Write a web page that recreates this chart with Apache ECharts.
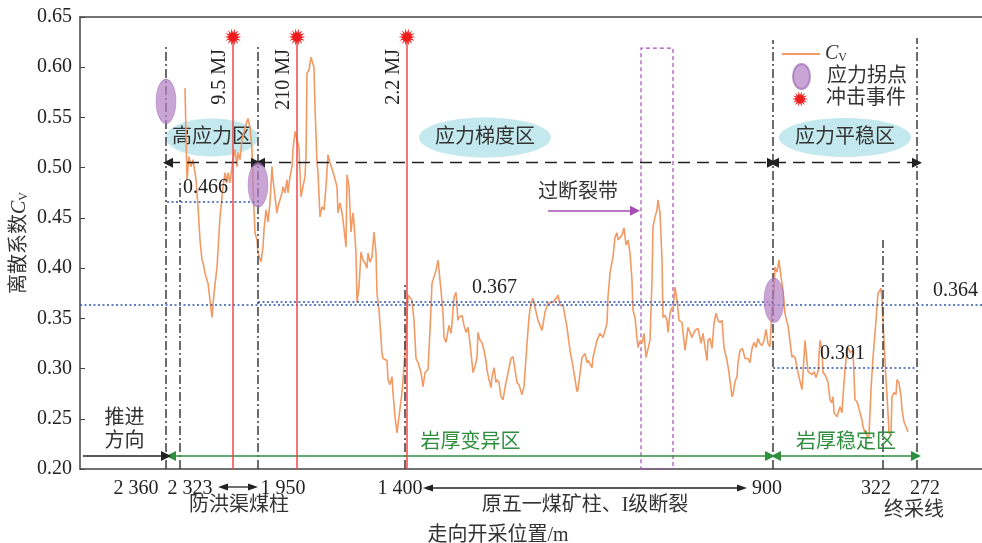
<!DOCTYPE html>
<html lang="zh">
<head>
<meta charset="utf-8">
<title>离散系数Cv</title>
<script src="https://cdn.jsdelivr.net/npm/echarts@6.0.0/dist/echarts.min.js"></script>
<style>
html,body{margin:0;padding:0;background:#fff;}
#chart{width:982px;height:543px;}
</style>
</head>
<body>
<div id="chart"></div>
<script>
// ---------- data ----------
// Cv along the advance (x = position along the advance sequence)
const cvPos = [
  105,107,109,111,113,116,118,120,122,123,
  125,127,128,132,134,137,140,142,143,145,
  147,148,150,152,153,155,157,158,160,162,
  165,168,170,172,173,175,177,178,181,183,
  184,186,188,190,192,193,195,197,198,200,
  202,203,205,207,208,210,212,213,215,217,
  219,221,223,225,226,227,229,231,233,234,
  235,237,238,240,242,244,246,248,250,252,
  253,255,257,258,260,262,263,266,267,269,
  271,273,274,276,277,279,281,283,285,287,
  288,290,292,294,296,297,299,300,302,303,
  305,307,308,310,312,313,315,317,319,322,
  324,326,328,332,334,336,338,341,343,345,
  348,350,352,354,356,358,359,361,363,364,
  366,368,369,371,372,374,376,378,379,382,
  384,386,388,390,392,393,395,397,398,400,
  402,404,406,407,409,411,412,414,416,417,
  419,421,423,426,428,431,433,435,437,439,
  442,444,447,449,451,453,455,458,462,465,
  468,470,473,477,478,480,483,487,490,493,
  497,498,502,505,507,508,512,513,517,520,
  523,527,528,530,532,533,535,537,538,540,
  542,544,546,548,550,552,553,555,557,558,
  560,562,564,566,568,570,572,573,575,577,
  578,580,582,583,585,587,588,590,592,593,
  595,597,599,602,603,605,608,610,612,615,
  618,621,623,624,627,628,630,632,634,636,
  638,640,642,644,647,649,652,653,655,657,
  658,660,662,663,665,668,670,672,674,676,
  678,680,682,684,686,688,690,692,694,695,
  697,699,701,703,705,707,708,710,712,713,
  715,718,722,725,728,730,732,734,736,738,
  740,742,743,745,747,748,750,752,753,754,
  757,758,760,762,763,765,767,768,770,772,
  773,775,777,778,780,782,783,785,788,789,
  791,793,795,797,798,800,801,802,804,806,
  808,809,811,812,814,816,817,819,821,822,
  824,826,828
];
const cvVal = [
  0.579,0.488,0.511,0.501,0.508,0.488,0.461,0.428,0.408,0.406,
  0.395,0.388,0.385,0.351,0.375,0.401,0.451,0.471,0.481,0.495,
  0.485,0.495,0.485,0.501,0.508,0.518,0.501,0.515,0.508,0.528,
  0.540,0.549,0.540,0.518,0.481,0.435,0.428,0.415,0.406,0.421,
  0.438,0.458,0.446,0.465,0.501,0.488,0.471,0.455,0.461,0.468,
  0.475,0.481,0.475,0.488,0.475,0.491,0.501,0.518,0.536,0.535,
  0.520,0.471,0.481,0.491,0.511,0.594,0.597,0.610,0.611,0.600,
  0.560,0.505,0.495,0.451,0.461,0.458,0.481,0.513,0.505,0.506,
  0.496,0.496,0.481,0.455,0.465,0.455,0.448,0.421,0.493,0.481,
  0.436,0.455,0.445,0.415,0.366,0.381,0.416,0.408,0.405,0.400,
  0.415,0.406,0.411,0.436,0.415,0.375,0.358,0.345,0.315,0.310,
  0.311,0.308,0.289,0.284,0.292,0.276,0.252,0.236,0.236,0.276,
  0.302,0.335,0.373,0.368,0.348,0.310,0.306,0.296,0.282,0.296,
  0.299,0.338,0.385,0.385,0.398,0.408,0.398,0.378,0.355,0.331,
  0.326,0.326,0.343,0.335,0.345,0.371,0.376,0.348,0.351,0.353,
  0.343,0.336,0.341,0.325,0.306,0.296,0.302,0.311,0.336,0.328,
  0.326,0.318,0.308,0.299,0.289,0.281,0.292,0.301,0.286,0.289,
  0.286,0.272,0.269,0.286,0.287,0.310,0.312,0.299,0.286,0.284,
  0.274,0.282,0.325,0.351,0.366,0.370,0.361,0.348,0.338,0.356,
  0.365,0.366,0.366,0.371,0.373,0.363,0.363,0.341,0.318,0.302,
  0.277,0.279,0.311,0.315,0.306,0.308,0.301,0.311,0.328,0.335,
  0.331,0.345,0.371,0.395,0.406,0.411,0.431,0.435,0.428,0.428,
  0.433,0.440,0.423,0.428,0.415,0.388,0.358,0.351,0.330,0.321,
  0.328,0.325,0.335,0.311,0.310,0.328,0.388,0.441,0.451,0.458,
  0.468,0.455,0.408,0.351,0.353,0.348,0.336,0.355,0.361,0.358,
  0.381,0.368,0.348,0.346,0.345,0.318,0.341,0.340,0.331,0.338,
  0.340,0.325,0.335,0.328,0.308,0.328,0.330,0.320,0.345,0.355,
  0.348,0.346,0.348,0.321,0.308,0.296,0.272,0.274,0.287,0.292,
  0.306,0.318,0.320,0.318,0.310,0.310,0.306,0.320,0.326,0.321,
  0.330,0.325,0.323,0.328,0.339,0.325,0.322,0.358,0.378,0.401,
  0.396,0.408,0.391,0.378,0.355,0.346,0.343,0.342,0.311,0.313,
  0.311,0.296,0.279,0.328,0.297,0.296,0.294,0.297,0.291,0.297,
  0.328,0.318,0.296,0.294,0.289,0.286,0.269,0.266,0.272,0.256,
  0.252,0.251,0.262,0.256,0.272,0.299,0.318,0.321,0.316,0.315,
  0.318,0.269,0.267,0.264,0.256,0.249,0.242,0.236,0.232,0.234,
  0.279,0.311,0.335,0.361,0.375,0.378,0.380,0.368,0.328,0.289,
  0.256,0.236,0.234,0.272,0.276,0.274,0.289,0.286,0.272,0.259,
  0.247,0.242,0.237
];

// mining position (m) at the section boundaries
const tickPos = [86, 100, 178, 325, 693, 803, 837];
const tickText = ['2 360', '2 323', '1 950', '1 400', '900', '322', '272'];

// section boundary lines: position and upper end
const boundPos = [86, 100, 178, 325, 693, 803, 837];
const boundTop = [0.623, 0.488, 0.623, 0.386, 0.627, 0.428, 0.629];

// stress turning points
const turnPos = [86, 178, 694];
const turnVal = [0.566, 0.483, 0.368];

// rock-burst events
const eventPos = [153, 217, 327];
const eventVal = [0.63, 0.63, 0.63];
const eventText = ['9.5 MJ', '210 MJ', '2.2 MJ'];

// mean Cv of each section
const meanVal = [0.466, 0.367, 0.301, 0.364];
const meanFrom = [87, 178, 693, 0];
const meanTo = [182, 693, 837, 902];

// stress zones
const stressZone = ['高应力区', '应力梯度区', '应力平稳区'];
const stressZonePos = [132, 405, 765];
const stressZoneVal = [0.53, 0.53, 0.53];
const stressSpanFrom = [88, 180, 694];
const stressSpanTo = [176, 692, 837];
const stressSpanVal = 0.505;

// rock thickness zones
const rockZone = ['岩厚变异区', '岩厚稳定区'];
const rockFrom = [91, 696];
const rockTo = [690, 836];
const rockVal = 0.213;
const advanceFrom = 3, advanceTo = 86;

// fault crossing
const faultFrom = 561, faultTo = 593, faultTop = 0.619;
const faultArrowFrom = 468, faultArrowTo = 555, faultArrowVal = 0.457;

// notes under the position axis
const noteText = ['防洪渠煤柱', '原五一煤矿柱、I级断裂', '终采线'];
const notePos = [159, 505, 834];
const spanFrom = [138, 343];
const spanTo = [178, 667];

// ---------- style ----------
const FONT = '"Liberation Serif","Noto Sans CJK SC",serif';
const TEXT = '#333';
const ELLIPSE = 'path://M0,-1C0.552,-1,1,-0.552,1,0C1,0.552,0.552,1,0,1C-0.552,1,-1,0.552,-1,0C-1,-0.552,-0.552,-1,0,-1Z';
function burstPath(n, inner) {
  let d = '';
  for (let i = 0; i < 2 * n; i++) {
    const r = i % 2 ? inner : 1;
    const a = Math.PI * i / n;
    d += (i ? 'L' : 'M') + (r * Math.cos(a)).toFixed(3) + ',' + (r * Math.sin(a)).toFixed(3);
  }
  return 'path://' + d + 'Z';
}
const BURST = burstPath(14, 0.5);
const zoneSize = [[92, 38], [132, 40], [132, 39]];
const meanLabelPos = ['insideStartTop', 'insideStartTop', 'insideStartTop', 'insideEndTop'];
const meanLabelDist = [[16, 4], [214, 4], [47, 4], [4, 4]];
const tickPad = [[0, 60, 0, 0], [0, 0, 0, 20], [0, 0, 0, 50], [0, 10, 0, 0], [0, 12, 0, 0], [0, 14, 0, 0], [0, 0, 0, 16]];
const tickRich = {};
tickPad.forEach((p, i) => { tickRich['t' + i] = { padding: p }; });
const cvRich = {
  t: { fontFamily: FONT, fontSize: 20, color: TEXT },
  c: { fontFamily: '"Liberation Serif",serif', fontStyle: 'italic', fontSize: 20, color: TEXT },
  v: { fontFamily: '"Liberation Serif",serif', fontSize: 12, color: TEXT, verticalAlign: 'bottom', padding: [6, 0, 0, 0] }
};

const hSeg = (x0, x1, y, start, end) => [Object.assign({ coord: [x0, y] }, start || {}), Object.assign({ coord: [x1, y] }, end || {})];

const option = {
  animation: false,
  backgroundColor: '#fff',
  grid: { left: 80, right: 0, top: 17, bottom: 74, containLabel: false, outerBoundsMode: 'none' },
  xAxis: [{
    type: 'value', min: 0, max: 902, position: 'bottom',
    axisLine: { show: true, lineStyle: { color: '#444', width: 1.5 } },
    axisTick: { show: false },
    splitLine: { show: false },
    axisLabel: {
      customValues: tickPos, hideOverlap: false, margin: 10,
      fontFamily: FONT, fontSize: 20, color: '#222',
      formatter: v => { const i = tickPos.indexOf(v); return '{t' + i + '|' + tickText[i] + '}'; },
      rich: tickRich
    },
    name: '走向开采位置/m', nameLocation: 'middle', nameGap: 57, nameMoveOverlap: false,
    nameTextStyle: { fontFamily: FONT, fontSize: 20, color: TEXT, padding: [0, 66, 0, 0] }
  }, {
    type: 'value', min: 0, max: 902, position: 'top',
    axisLine: { show: true, lineStyle: { color: '#444', width: 1.5 } },
    axisTick: { show: false }, axisLabel: { show: false }, splitLine: { show: false }
  }],
  yAxis: {
    type: 'value', min: 0.2, max: 0.65, interval: 0.05,
    axisLine: { show: true, lineStyle: { color: '#444', width: 1.5 } },
    axisTick: { show: true, inside: true, length: 5, lineStyle: { color: '#444' } },
    splitLine: { show: false },
    axisLabel: { fontFamily: FONT, fontSize: 20, color: '#222', margin: 8, formatter: v => v.toFixed(2) },
    name: '{t|离散系数}{c|C}{v|V}', nameLocation: 'middle', nameGap: 50, nameRotate: 90, nameMoveOverlap: false,
    nameTextStyle: { rich: cvRich }
  },
  legend: [{
    data: [{ name: 'Cv', icon: 'rect' }], left: 782, top: 44, orient: 'vertical', padding: 0,
    itemWidth: 38, itemHeight: 2, selectedMode: false,
    formatter: () => '{c|C}{v|V}',
    textStyle: { rich: cvRich }
  }, {
    data: [{ name: '应力拐点', icon: ELLIPSE }], left: 792, top: 63, orient: 'vertical', padding: 0,
    itemWidth: 17, itemHeight: 25, selectedMode: false, symbolKeepAspect: false,
    textStyle: { fontFamily: FONT, fontSize: 20, color: TEXT, padding: [0, 0, 0, 12] }
  }, {
    data: ['冲击事件'], left: 792, top: 89, orient: 'vertical', padding: 0,
    itemWidth: 16, itemHeight: 16, selectedMode: false,
    textStyle: { fontFamily: FONT, fontSize: 20, color: TEXT, padding: [0, 0, 0, 13] }
  }],
  series: [
    {
      name: 'zones', type: 'scatter', z: 1, silent: true,
      data: stressZonePos.map((x, i) => [x, stressZoneVal[i]]),
      symbol: ELLIPSE, symbolSize: (v, p) => zoneSize[p.dataIndex],
      itemStyle: { color: '#c3e8ed', opacity: 1 },
      label: { show: true, position: 'inside', formatter: p => stressZone[p.dataIndex], fontFamily: FONT, fontSize: 20, color: TEXT }
    },
    {
      name: 'means', type: 'line', data: [], z: 2, silent: true,
      markLine: {
        silent: true, symbol: 'none',
        lineStyle: { color: '#2d55b3', width: 1.6, type: [2, 2.5] },
        label: { show: true, fontFamily: FONT, fontSize: 20, color: '#222' },
        data: meanVal.map((v, i) => hSeg(meanFrom[i], meanTo[i], v, {
          label: { formatter: v.toFixed(3), position: meanLabelPos[i], distance: meanLabelDist[i] }
        }))
      }
    },
    {
      name: 'Cv', type: 'line', z: 3, symbol: 'none', showSymbol: false, silent: true,
      data: cvPos.map((x, i) => [x, cvVal[i]]),
      lineStyle: { color: '#f29a63', width: 1.6 },
      itemStyle: { color: '#f29a63' }
    },
    {
      name: 'bounds', type: 'line', data: [], z: 4, silent: true,
      markLine: {
        silent: true, symbol: 'none', label: { show: false },
        lineStyle: { color: '#3d3d3d', width: 1.5, type: [9, 3, 2, 3] },
        data: boundPos.map((x, i) => [{ coord: [x, 0.2] }, { coord: [x, boundTop[i]] }])
      }
    },
    {
      name: 'stressSpans', type: 'line', data: [], z: 4, silent: true,
      markLine: {
        silent: true, symbol: ['triangle', 'triangle'], symbolSize: 10, label: { show: false },
        lineStyle: { color: '#222', width: 1.4, type: [12, 7] },
        data: stressSpanFrom.map((x, i) => hSeg(x, stressSpanTo[i], stressSpanVal))
      }
    },
    {
      name: 'rockSpans', type: 'line', data: [], z: 4, silent: true,
      markLine: {
        silent: true, symbol: ['triangle', 'triangle'], symbolSize: 10,
        lineStyle: { color: '#2f8f3e', width: 1.5, type: 'solid' },
        label: { show: true, position: 'middle', distance: [0, 3], fontFamily: FONT, fontSize: 20, color: '#2f8f3e' },
        data: rockFrom.map((x, i) => hSeg(x, rockTo[i], rockVal, { label: { formatter: rockZone[i] } })).concat([
          hSeg(advanceFrom, advanceTo, rockVal,
            { symbol: 'none', lineStyle: { color: '#222' }, label: { formatter: '推进\n方向', color: TEXT, lineHeight: 23 } },
            { symbol: 'triangle' })
        ])
      }
    },
    {
      name: 'fault', type: 'line', data: [], z: 4, silent: true,
      markArea: {
        silent: true, label: { show: false },
        itemStyle: { color: 'rgba(0,0,0,0)', borderColor: '#a64db8', borderWidth: 1.2, borderType: [4, 3] },
        data: [[{ coord: [faultFrom, 0.2] }, { coord: [faultTo, faultTop] }]]
      },
      markLine: {
        silent: true, symbolSize: 10,
        lineStyle: { color: '#a64db8', width: 1.5, type: 'solid' },
        label: { show: true, position: 'insideStartTop', distance: [-10, 8], formatter: '过断裂带', fontFamily: FONT, fontSize: 20, color: TEXT },
        data: [hSeg(faultArrowFrom, faultArrowTo, faultArrowVal, { symbol: 'none' }, { symbol: 'triangle' })]
      }
    },
    {
      name: '冲击事件', type: 'scatter', z: 6, silent: true,
      data: eventPos.map((x, i) => [x, eventVal[i]]),
      symbol: BURST, symbolSize: 17,
      itemStyle: { color: '#ee1d1d', opacity: 1 },
      markLine: {
        silent: true, symbol: 'none',
        lineStyle: { color: '#f04848', width: 1.5, type: 'solid' },
        label: {
          show: true, position: 'insideEndTop', distance: [12, 3],
          formatter: p => eventText[p.dataIndex], fontFamily: FONT, fontSize: 20, color: '#222'
        },
        data: eventPos.map((x, i) => [{ coord: [x, 0.2] }, { coord: [x, eventVal[i]] }])
      }
    },
    {
      name: '应力拐点', type: 'scatter', z: 7, silent: true,
      data: turnPos.map((x, i) => [x, turnVal[i]]),
      symbol: ELLIPSE, symbolSize: [20, 44],
      itemStyle: { color: '#b27fc4', opacity: 0.7, borderColor: '#a06cb5', borderWidth: 0.8 }
    }
  ]
};

const chart = echarts.init(document.getElementById('chart'));
chart.setOption(option);

// notes and span arrows below the position axis, placed through the x scale
const toX = v => chart.convertToPixel({ xAxisIndex: 0 }, v);
const axisY = chart.convertToPixel({ yAxisIndex: 0 }, 0.2);
const graphics = [];
function spanArrow(x1, x2, y) {
  const c = '#222';
  graphics.push({ type: 'line', silent: true, shape: { x1: x1 + 4, y1: y, x2: x2 - 4, y2: y }, style: { stroke: c, lineWidth: 1.3 } });
  graphics.push({ type: 'polygon', silent: true, shape: { points: [[x1, y], [x1 + 10, y - 3.5], [x1 + 10, y + 3.5]] }, style: { fill: c } });
  graphics.push({ type: 'polygon', silent: true, shape: { points: [[x2, y], [x2 - 10, y - 3.5], [x2 - 10, y + 3.5]] }, style: { fill: c } });
}
spanFrom.forEach((x, i) => spanArrow(toX(x), toX(spanTo[i]), axisY + 18 + i));
const noteDy = [37, 37, 42];
noteText.forEach((t, i) => {
  graphics.push({
    type: 'text', silent: true, x: toX(notePos[i]), y: axisY + noteDy[i],
    style: { text: t, font: '20px ' + FONT, fill: TEXT, align: 'center', verticalAlign: 'middle' }
  });
});
chart.setOption({ graphic: graphics });
</script>
</body>
</html>
